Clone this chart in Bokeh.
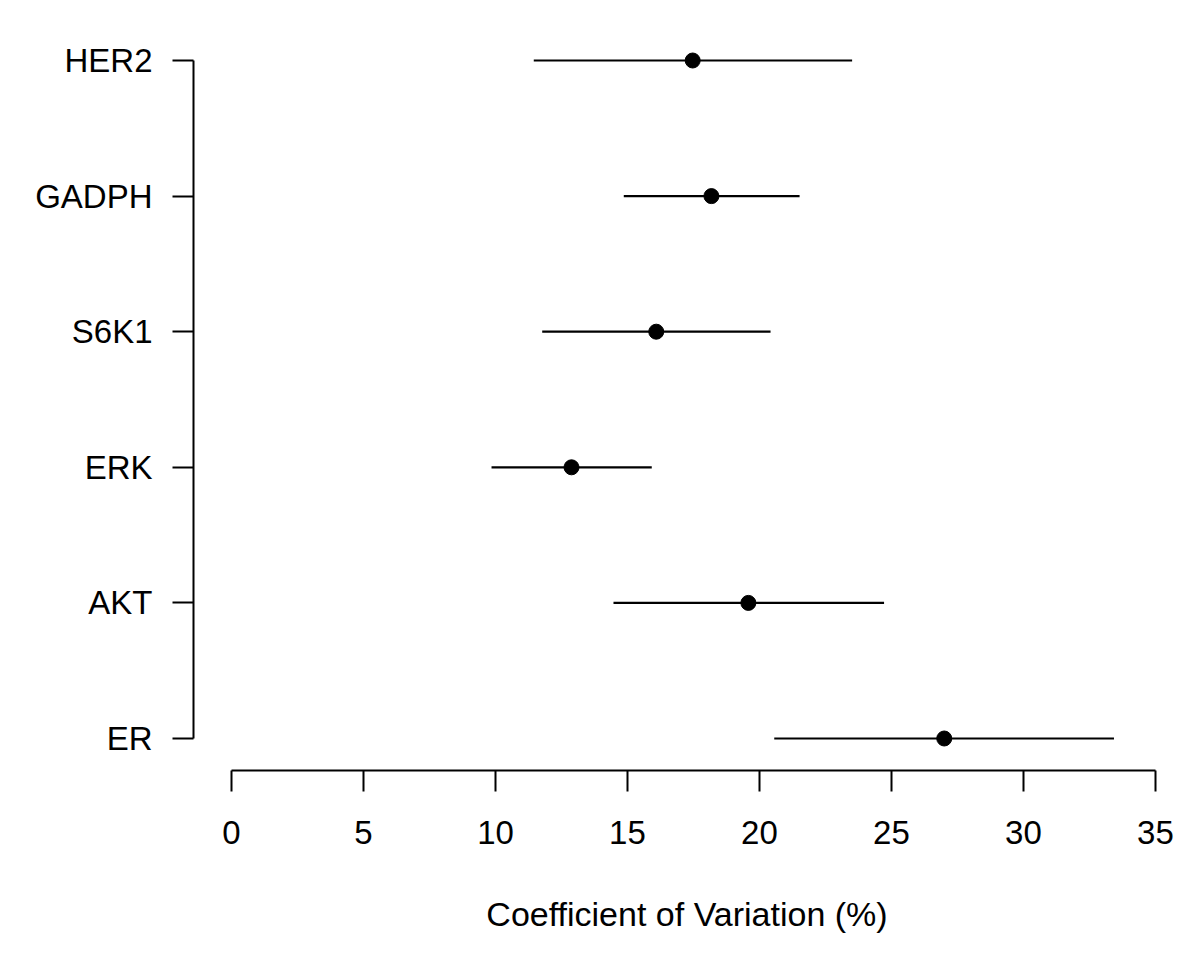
from bokeh.plotting import figure
from bokeh.models import FixedTicker, ColumnDataSource, Range1d
from bokeh.embed import file_html
from bokeh.resources import INLINE

# Data
proteins = ["ER", "AKT", "ERK", "S6K1", "GADPH", "HER2"]
cv_mean = [27.0, 19.58, 12.88, 16.09, 18.18, 17.47]
cv_low = [20.56, 14.47, 9.85, 11.77, 14.86, 11.45]
cv_high = [33.43, 24.72, 15.92, 20.42, 21.52, 23.51]
x_ticks = [0, 5, 10, 15, 20, 25, 30, 35]
positions = list(range(1, len(proteins) + 1))

FONT = "Liberation Sans"
FS = "33px"

src = ColumnDataSource(dict(y=positions, mean=cv_mean, lo=cv_low, hi=cv_high))

p = figure(width=1184, height=943, output_backend="svg", toolbar_location=None,
           x_range=Range1d(-1.44, 35.95), y_range=Range1d(0.764, 6.236),
           min_border_left=193, min_border_right=4, min_border_top=28,
           min_border_bottom=173)
p.outline_line_color = None
p.grid.visible = False
p.background_fill_color = "white"
p.border_fill_color = "white"

p.segment(x0="lo", y0="y", x1="hi", y1="y", source=src, line_color="black", line_width=2.2)
p.scatter(x="mean", y="y", source=src, size=15, color="black", line_color="black")

xa = p.xaxis[0]
xa.ticker = FixedTicker(ticks=x_ticks)
xa.bounds = (0, 35)
xa.axis_label = "Coefficient of Variation (%)"
xa.axis_label_text_font = FONT
xa.axis_label_text_font_size = "34px"
xa.axis_label_text_font_style = "normal"
xa.axis_label_text_color = "black"
xa.axis_label_standoff = 48
xa.major_label_text_font = FONT
xa.major_label_text_font_size = FS
xa.major_label_text_color = "black"
xa.major_label_standoff = 29
xa.major_tick_out = 21
xa.major_tick_in = 0
xa.minor_tick_out = 0
xa.minor_tick_in = 0
xa.axis_line_width = 2
xa.major_tick_line_width = 2
xa.axis_line_color = "black"
xa.major_tick_line_color = "black"

ya = p.yaxis[0]
ya.ticker = FixedTicker(ticks=positions)
ya.major_label_overrides = {pos: name for pos, name in zip(positions, proteins)}
ya.bounds = (1, 6)
ya.major_label_text_font = FONT
ya.major_label_text_font_size = FS
ya.major_label_text_color = "black"
ya.major_label_orientation = "horizontal"
ya.major_label_standoff = 20
ya.major_tick_out = 21
ya.major_tick_in = 0
ya.minor_tick_out = 0
ya.minor_tick_in = 0
ya.axis_line_width = 2
ya.major_tick_line_width = 2
ya.axis_line_color = "black"
ya.major_tick_line_color = "black"

open("out.html", "w").write(file_html(p, INLINE))
